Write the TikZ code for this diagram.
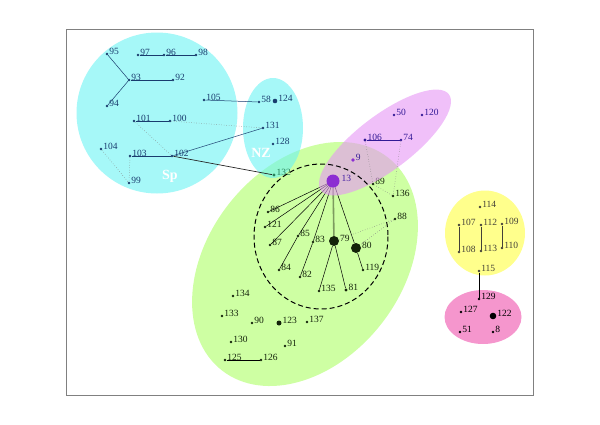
\documentclass[tikz,border=0pt]{standalone}
\usepackage{fontspec}
\setmainfont{Liberation Serif}
\definecolor{spcyan}{RGB}{107,243,243}
\definecolor{grfill}{RGB}{173,255,102}
\definecolor{pufill}{RGB}{230,150,245}
\definecolor{yefill}{RGB}{255,255,63}
\definecolor{pkfill}{RGB}{238,80,172}
\definecolor{spblue}{RGB}{25,60,110}
\definecolor{pudark}{RGB}{50,25,150}
\definecolor{pumid}{RGB}{140,45,210}
\definecolor{grdark}{RGB}{20,35,10}
\definecolor{nzgreen}{RGB}{40,130,90}
\definecolor{thickgr}{RGB}{125,155,95}
\tikzset{
  v/.style={circle,fill,inner sep=0pt,minimum size=2.6pt},
  lb/.style={inner sep=0.6pt,yshift=2.4pt,font=\fontsize{9.5}{10}\selectfont},
  ln/.style={line width=0.5pt},
  dt/.style={gray,dotted,line width=0.5pt},
  blob/.style={fill opacity=0.6},
}
\begin{document}
\begin{tikzpicture}[x=1pt,y=-1pt]
  \useasboundingbox (0,0) rectangle (600,424);
  \draw[gray,line width=0.8pt] (66,29) rectangle (533,395);

  % the coloured groups
  \fill[blob,grfill,rotate around={52:(305,264)}] (305,264) ellipse [x radius=135,y radius=97];
  \fill[blob,spcyan] (157,113) circle [radius=80.5];
  \fill[blob,spcyan] (273,128) ellipse [x radius=30,y radius=50];
  \fill[blob,yefill] (485,233) ellipse [x radius=40,y radius=42.5];
  \fill[blob,pkfill] (483,317) ellipse [x radius=38.5,y radius=27];

  % Sp and NZ
  \begin{scope}[spblue]
  \node[v,label={[lb]east:95}] (95) at (107,54) {};
  \node[v,label={[lb]east:97}] (97) at (138,55) {};
  \node[v,label={[lb]east:96}] (96) at (164,55) {};
  \node[v,label={[lb]east:98}] (98) at (196,55) {};
  \node[v,label={[lb]east:93}] (93) at (129,80) {};
  \node[v,label={[lb]east:92}] (92) at (173,80) {};
  \node[v,label={[lb]east:94}] (94) at (107,106) {};
  \node[v,label={[lb]east:105}] (105) at (204,100) {};
  \node[v,label={[lb]east:58}] (58) at (259,102) {};
  \node[v,minimum size=4.6pt,label={[lb]east:124}] (124) at (275,101) {};
  \node[v,label={[lb]east:101}] (101) at (134,121) {};
  \node[v,label={[lb]east:100}] (100) at (170,121) {};
  \node[v,label={[lb]east:131}] (131) at (263,128) {};
  \node[v,label={[lb]east:128}] (128) at (273,144) {};
  \node[v,label={[lb]east:104}] (104) at (101,149) {};
  \node[v,label={[lb]east:103}] (103) at (130,156) {};
  \node[v,label={[lb]east:102}] (102) at (172,156) {};
  \node[v,label={[lb]east:99}] (99) at (129,183) {};
  \draw[ln] (95) -- (93);
  \draw[ln] (93) -- (94);
  \draw[ln] (93) -- (92);
  \draw[ln] (97) -- (96);
  \draw[ln] (96) -- (98);
  \draw[ln] (105) -- (58);
  \draw[ln] (101) -- (100);
  \draw[ln] (103) -- (102);
  \draw[ln] (102) -- (131);
  \end{scope}
  \node[v,nzgreen,minimum size=3.4pt,label={[lb,nzgreen]east:132}] (132) at (274,175) {};
  \draw[line width=0.7pt,black!85] (102) -- (132);
  \draw[dt] (100) -- (131);
  \draw[dt] (101) -- (102);
  \draw[dt] (104) -- (99);
  \draw[dt] (103) -- (99);

  % the big green group
  \begin{scope}[grdark]
  \node[v,label={[lb]east:86}] (86) at (268,212) {};
  \node[v,label={[lb]east:121}] (121) at (265,227) {};
  \node[v,label={[lb]east:87}] (87) at (270,245) {};
  \node[v,label={[lb]east:85}] (85) at (298,236) {};
  \node[v,label={[lb]east:83}] (83) at (313,242) {};
  \node[v,minimum size=10pt,label={[lb]east:79}] (79) at (334,241) {};
  \node[v,minimum size=10pt,label={[lb]east:80}] (80) at (356,248) {};
  \node[v,label={[lb]east:84}] (84) at (279,270) {};
  \node[v,label={[lb]east:82}] (82) at (300,277) {};
  \node[v,label={[lb]east:119}] (119) at (363,270) {};
  \node[v,label={[lb]east:135}] (135) at (319,291) {};
  \node[v,minimum size=3.4pt,label={[lb]east:81}] (81) at (346,290) {};
  \node[v,label={[lb]east:89}] (89) at (373,184) {};
  \node[v,label={[lb]east:136}] (136) at (393,196) {};
  \node[v,label={[lb]east:88}] (88) at (395,219) {};
  \node[v,label={[lb]east:134}] (134) at (233,296) {};
  \node[v,label={[lb]east:133}] (133) at (222,316) {};
  \node[v,label={[lb]east:90}] (90) at (252,323) {};
  \node[v,minimum size=5pt,label={[lb]east:123}] (123) at (279,323) {};
  \node[v,label={[lb]east:137}] (137) at (307,322) {};
  \node[v,label={[lb]east:130}] (130) at (231,342) {};
  \node[v,label={[lb]east:91}] (91) at (285,346) {};
  \node[v,label={[lb]east:125}] (125) at (225,360) {};
  \node[v,label={[lb]east:126}] (126) at (261,360) {};
  \end{scope}
  \coordinate (c13) at (333,181);
  \draw[ln] (c13) -- (86);
  \draw[ln] (c13) -- (121);
  \draw[ln] (c13) -- (87);
  \draw[ln] (c13) -- (85) -- (84);
  \draw[ln] (c13) -- (83) -- (82);
  \draw[ln] (c13) -- (80);
  \draw[thickgr,line width=1.6pt] (c13) -- (79);
  \draw[ln] (79) -- (135);
  \draw[ln] (79) -- (81);
  \draw[ln] (80) -- (119);
  \draw[ln] (125) -- (126);
  \draw[dt] (88) -- (79);
  \draw[dt] (88) -- (80);
  \draw[dt] (89) -- (136);

  % the purple group on top
  \fill[blob,pufill,rotate around={37:(385,142.5)}] (385,142.5) ellipse [x radius=80,y radius=27.5];
  \draw[black,line width=1pt,dash pattern=on 5pt off 3pt] (321,236.5) ellipse [x radius=67,y radius=72.5];
  \begin{scope}[pudark]
  \node[v,label={[lb]east:50}] (50) at (394,115) {};
  \node[v,label={[lb]east:120}] (120) at (422,115) {};
  \node[v,minimum size=3.2pt,label={[lb]east:106}] (106) at (365,140) {};
  \node[v,label={[lb]east:74}] (74) at (401,140) {};
  \draw[ln] (106) -- (74);
  \end{scope}
  \node[v,pumid,minimum size=3.8pt,label={[lb,pudark]east:9}] (9) at (353,160) {};
  \node[v,pumid,minimum size=13pt,label={[lb,pudark!80!pumid,xshift=1pt]east:13}] (13) at (333,181) {};
  \draw[dt] (106) -- (89);
  \draw[dt] (74) -- (136);

  % yellow and pink groups
  \begin{scope}[black!85!yellow]
  \node[v,label={[lb]east:114}] (114) at (480,207) {};
  \node[v,label={[lb]east:107}] (107) at (459,225) {};
  \node[v,label={[lb]east:112}] (112) at (481,225) {};
  \node[v,label={[lb]east:109}] (109) at (502,224) {};
  \node[v,label={[lb]east:108}] (108) at (459,252) {};
  \node[v,label={[lb]east:113}] (113) at (481,251) {};
  \node[v,label={[lb]east:110}] (110) at (502,248) {};
  \node[v,label={[lb]east:115}] (115) at (479,271) {};
  \draw[ln] (107) -- (108);
  \draw[ln] (112) -- (113);
  \draw[ln] (109) -- (110);
  \end{scope}
  \node[v,label={[lb]east:129}] (129) at (479,299) {};
  \node[v,label={[lb]east:127}] (127) at (461,312) {};
  \node[v,minimum size=6.6pt,label={[lb]east:122}] (122) at (493,316) {};
  \node[v,label={[lb]east:51}] (51) at (460,332) {};
  \node[v,label={[lb]east:8}] (8) at (493,332) {};
  \draw[ln] (115) -- (129);

  \node[white,font=\bfseries\fontsize{14}{14}\selectfont] (sp) at (170,176) {Sp};
  \node[white,font=\bfseries\fontsize{14}{14}\selectfont] (nz) at (261,153) {NZ};
\end{tikzpicture}
\end{document}
